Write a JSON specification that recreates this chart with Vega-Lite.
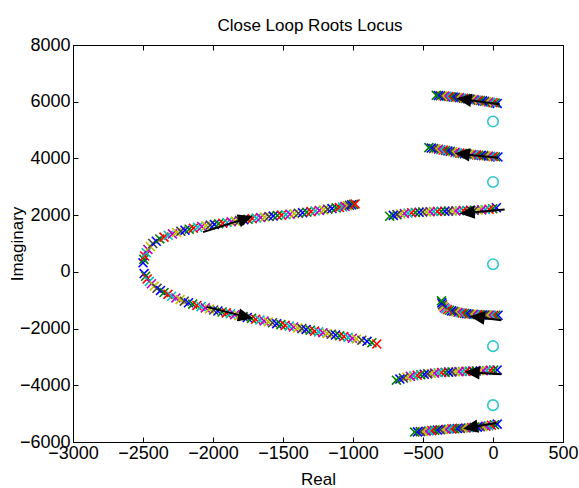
{
  "$schema": "https://vega.github.io/schema/vega-lite/v6.json",
  "width": 490,
  "height": 397,
  "autosize": {"type": "none"},
  "padding": {"left": 73, "top": 45, "right": 16, "bottom": 46},
  "background": "white",
  "title": {"text": "Close Loop Roots Locus", "font": "Liberation Sans", "fontSize": 17, "fontWeight": "normal", "color": "black", "offset": 1, "dx": -8},
  "config": {
    "view": {"stroke": "black", "strokeWidth": 1},
    "axis": {"domain": false, "grid": false, "tickColor": "black", "tickSize": -5, "tickWidth": 1, "format": "d",
      "labelFont": "Liberation Sans", "labelFontSize": 18, "labelColor": "black", "labelFlush": false, "labelOverlap": false,
      "titleFont": "Liberation Sans", "titleFontSize": 17, "titleFontWeight": "normal", "titleColor": "black"}
  },
  "datasets": {
    "roots": [
      {"b":1,"g":1,"re":-2500,"im":320},{"b":1,"g":2,"re":-2494,"im":440},{"b":1,"g":3,"re":-2488,"im":560},{"b":1,"g":4,"re":-2477,"im":675},{"b":1,"g":5,"re":-2465,"im":790},{"b":1,"g":6,"re":-2448,"im":895},{"b":1,"g":7,"re":-2430,"im":1000},{"b":1,"g":8,"re":-2405,"im":1080},{"b":1,"g":9,"re":-2380,"im":1160},{"b":1,"g":10,"re":-2350,"im":1225},{"b":1,"g":11,"re":-2320,"im":1290},{"b":1,"g":12,"re":-2290,"im":1340},{"b":1,"g":13,"re":-2260,"im":1390},{"b":1,"g":14,"re":-2230,"im":1430},{"b":1,"g":15,"re":-2200,"im":1470},{"b":1,"g":16,"re":-2170,"im":1505},{"b":1,"g":17,"re":-2140,"im":1540},{"b":1,"g":18,"re":-2110,"im":1570},{"b":1,"g":19,"re":-2080,"im":1600},{"b":1,"g":20,"re":-2050,"im":1625},{"b":1,"g":21,"re":-2020,"im":1650},{"b":1,"g":22,"re":-1990,"im":1672},{"b":1,"g":23,"re":-1960,"im":1695},{"b":1,"g":24,"re":-1930,"im":1717},{"b":1,"g":25,"re":-1900,"im":1740},{"b":1,"g":26,"re":-1870,"im":1765},{"b":1,"g":27,"re":-1840,"im":1790},{"b":1,"g":28,"re":-1810,"im":1812},{"b":1,"g":29,"re":-1780,"im":1835},{"b":1,"g":30,"re":-1750,"im":1855},{"b":1,"g":31,"re":-1720,"im":1875},{"b":1,"g":32,"re":-1690,"im":1895},{"b":1,"g":33,"re":-1660,"im":1915},{"b":1,"g":34,"re":-1630,"im":1932},{"b":1,"g":35,"re":-1600,"im":1950},{"b":1,"g":36,"re":-1570,"im":1967},{"b":1,"g":37,"re":-1540,"im":1985},{"b":1,"g":38,"re":-1510,"im":2000},{"b":1,"g":39,"re":-1480,"im":2015},{"b":1,"g":40,"re":-1450,"im":2032},{"b":1,"g":41,"re":-1420,"im":2050},{"b":1,"g":42,"re":-1390,"im":2067},{"b":1,"g":43,"re":-1360,"im":2085},{"b":1,"g":44,"re":-1330,"im":2105},{"b":1,"g":45,"re":-1300,"im":2125},{"b":1,"g":46,"re":-1270,"im":2145},{"b":1,"g":47,"re":-1240,"im":2165},{"b":1,"g":48,"re":-1210,"im":2187},{"b":1,"g":49,"re":-1180,"im":2210},{"b":1,"g":50,"re":-1150,"im":2232},{"b":1,"g":51,"re":-1120,"im":2255},{"b":1,"g":52,"re":-1097,"im":2272},{"b":1,"g":53,"re":-1075,"im":2290},{"b":1,"g":54,"re":-1057,"im":2310},{"b":1,"g":55,"re":-1040,"im":2330},{"b":1,"g":56,"re":-1025,"im":2347},{"b":1,"g":57,"re":-1010,"im":2365},{"b":1,"g":58,"re":-997,"im":2380},{"b":1,"g":59,"re":-985,"im":2395},
      {"b":2,"g":1,"re":-2492,"im":-60},{"b":2,"g":2,"re":-2481,"im":-155},{"b":2,"g":3,"re":-2470,"im":-250},{"b":2,"g":4,"re":-2455,"im":-335},{"b":2,"g":5,"re":-2440,"im":-420},{"b":2,"g":6,"re":-2420,"im":-500},{"b":2,"g":7,"re":-2400,"im":-580},{"b":2,"g":8,"re":-2375,"im":-655},{"b":2,"g":9,"re":-2350,"im":-730},{"b":2,"g":10,"re":-2322,"im":-795},{"b":2,"g":11,"re":-2295,"im":-860},{"b":2,"g":12,"re":-2265,"im":-920},{"b":2,"g":13,"re":-2235,"im":-980},{"b":2,"g":14,"re":-2205,"im":-1035},{"b":2,"g":15,"re":-2175,"im":-1090},{"b":2,"g":16,"re":-2145,"im":-1137},{"b":2,"g":17,"re":-2115,"im":-1185},{"b":2,"g":18,"re":-2085,"im":-1227},{"b":2,"g":19,"re":-2055,"im":-1270},{"b":2,"g":20,"re":-2025,"im":-1307},{"b":2,"g":21,"re":-1995,"im":-1345},{"b":2,"g":22,"re":-1965,"im":-1380},{"b":2,"g":23,"re":-1935,"im":-1415},{"b":2,"g":24,"re":-1905,"im":-1447},{"b":2,"g":25,"re":-1875,"im":-1480},{"b":2,"g":26,"re":-1845,"im":-1512},{"b":2,"g":27,"re":-1815,"im":-1545},{"b":2,"g":28,"re":-1785,"im":-1577},{"b":2,"g":29,"re":-1755,"im":-1610},{"b":2,"g":30,"re":-1725,"im":-1640},{"b":2,"g":31,"re":-1695,"im":-1670},{"b":2,"g":32,"re":-1665,"im":-1700},{"b":2,"g":33,"re":-1635,"im":-1730},{"b":2,"g":34,"re":-1605,"im":-1762},{"b":2,"g":35,"re":-1575,"im":-1795},{"b":2,"g":36,"re":-1545,"im":-1827},{"b":2,"g":37,"re":-1515,"im":-1860},{"b":2,"g":38,"re":-1485,"im":-1887},{"b":2,"g":39,"re":-1455,"im":-1915},{"b":2,"g":40,"re":-1425,"im":-1945},{"b":2,"g":41,"re":-1395,"im":-1975},{"b":2,"g":42,"re":-1365,"im":-2002},{"b":2,"g":43,"re":-1335,"im":-2030},{"b":2,"g":44,"re":-1305,"im":-2060},{"b":2,"g":45,"re":-1275,"im":-2090},{"b":2,"g":46,"re":-1245,"im":-2117},{"b":2,"g":47,"re":-1215,"im":-2145},{"b":2,"g":48,"re":-1185,"im":-2172},{"b":2,"g":49,"re":-1155,"im":-2200},{"b":2,"g":50,"re":-1125,"im":-2227},{"b":2,"g":51,"re":-1095,"im":-2255},{"b":2,"g":52,"re":-1065,"im":-2282},{"b":2,"g":53,"re":-1035,"im":-2310},{"b":2,"g":54,"re":-1005,"im":-2340},{"b":2,"g":55,"re":-975,"im":-2370},{"b":2,"g":56,"re":-937,"im":-2410},{"b":2,"g":57,"re":-900,"im":-2450},{"b":2,"g":58,"re":-865,"im":-2497},{"b":2,"g":59,"re":-830,"im":-2545},
      {"b":3,"g":1,"re":30,"im":5940},{"b":3,"g":2,"re":15,"im":5953},{"b":3,"g":3,"re":0,"im":5965},{"b":3,"g":4,"re":-15,"im":5978},{"b":3,"g":5,"re":-30,"im":5990},{"b":3,"g":6,"re":-45,"im":6003},{"b":3,"g":7,"re":-60,"im":6016},{"b":3,"g":8,"re":-75,"im":6029},{"b":3,"g":9,"re":-90,"im":6042},{"b":3,"g":10,"re":-105,"im":6053},{"b":3,"g":11,"re":-120,"im":6063},{"b":3,"g":12,"re":-135,"im":6073},{"b":3,"g":13,"re":-150,"im":6083},{"b":3,"g":14,"re":-165,"im":6093},{"b":3,"g":15,"re":-180,"im":6103},{"b":3,"g":16,"re":-195,"im":6113},{"b":3,"g":17,"re":-210,"im":6123},{"b":3,"g":18,"re":-225,"im":6133},{"b":3,"g":19,"re":-240,"im":6143},{"b":3,"g":20,"re":-255,"im":6152},{"b":3,"g":21,"re":-270,"im":6160},{"b":3,"g":22,"re":-285,"im":6168},{"b":3,"g":23,"re":-300,"im":6175},{"b":3,"g":24,"re":-315,"im":6182},{"b":3,"g":25,"re":-330,"im":6189},{"b":3,"g":26,"re":-345,"im":6196},{"b":3,"g":27,"re":-360,"im":6203},{"b":3,"g":28,"re":-375,"im":6210},{"b":3,"g":29,"re":-390,"im":6217},{"b":3,"g":30,"re":-405,"im":6225},
      {"b":4,"g":1,"re":35,"im":4050},{"b":4,"g":2,"re":18,"im":4058},{"b":4,"g":3,"re":1,"im":4066},{"b":4,"g":4,"re":-16,"im":4074},{"b":4,"g":5,"re":-33,"im":4082},{"b":4,"g":6,"re":-50,"im":4090},{"b":4,"g":7,"re":-67,"im":4098},{"b":4,"g":8,"re":-84,"im":4107},{"b":4,"g":9,"re":-101,"im":4115},{"b":4,"g":10,"re":-118,"im":4124},{"b":4,"g":11,"re":-135,"im":4132},{"b":4,"g":12,"re":-152,"im":4141},{"b":4,"g":13,"re":-169,"im":4151},{"b":4,"g":14,"re":-186,"im":4160},{"b":4,"g":15,"re":-203,"im":4170},{"b":4,"g":16,"re":-220,"im":4179},{"b":4,"g":17,"re":-237,"im":4188},{"b":4,"g":18,"re":-254,"im":4198},{"b":4,"g":19,"re":-271,"im":4218},{"b":4,"g":20,"re":-288,"im":4236},{"b":4,"g":21,"re":-305,"im":4250},{"b":4,"g":22,"re":-322,"im":4265},{"b":4,"g":23,"re":-339,"im":4280},{"b":4,"g":24,"re":-356,"im":4295},{"b":4,"g":25,"re":-373,"im":4310},{"b":4,"g":26,"re":-390,"im":4325},{"b":4,"g":27,"re":-407,"im":4340},{"b":4,"g":28,"re":-424,"im":4352},{"b":4,"g":29,"re":-441,"im":4366},{"b":4,"g":30,"re":-458,"im":4380},
      {"b":5,"g":1,"re":24,"im":2260},{"b":5,"g":2,"re":-2,"im":2228},{"b":5,"g":3,"re":-28,"im":2210},{"b":5,"g":4,"re":-55,"im":2197},{"b":5,"g":5,"re":-81,"im":2186},{"b":5,"g":6,"re":-107,"im":2178},{"b":5,"g":7,"re":-134,"im":2172},{"b":5,"g":8,"re":-160,"im":2167},{"b":5,"g":9,"re":-186,"im":2162},{"b":5,"g":10,"re":-212,"im":2158},{"b":5,"g":11,"re":-239,"im":2154},{"b":5,"g":12,"re":-265,"im":2150},{"b":5,"g":13,"re":-291,"im":2147},{"b":5,"g":14,"re":-318,"im":2143},{"b":5,"g":15,"re":-344,"im":2140},{"b":5,"g":16,"re":-370,"im":2136},{"b":5,"g":17,"re":-397,"im":2131},{"b":5,"g":18,"re":-423,"im":2127},{"b":5,"g":19,"re":-449,"im":2122},{"b":5,"g":20,"re":-475,"im":2116},{"b":5,"g":21,"re":-502,"im":2110},{"b":5,"g":22,"re":-528,"im":2102},{"b":5,"g":23,"re":-554,"im":2094},{"b":5,"g":24,"re":-581,"im":2085},{"b":5,"g":25,"re":-607,"im":2076},{"b":5,"g":26,"re":-633,"im":2060},{"b":5,"g":27,"re":-659,"im":2040},{"b":5,"g":28,"re":-686,"im":2018},{"b":5,"g":29,"re":-712,"im":1992},{"b":5,"g":30,"re":-738,"im":1960},
      {"b":6,"g":1,"re":36,"im":-1530},{"b":6,"g":2,"re":20,"im":-1530},{"b":6,"g":3,"re":4,"im":-1530},{"b":6,"g":4,"re":-12,"im":-1529},{"b":6,"g":5,"re":-28,"im":-1528},{"b":6,"g":6,"re":-44,"im":-1526},{"b":6,"g":7,"re":-60,"im":-1523},{"b":6,"g":8,"re":-76,"im":-1519},{"b":6,"g":9,"re":-92,"im":-1515},{"b":6,"g":10,"re":-108,"im":-1509},{"b":6,"g":11,"re":-124,"im":-1503},{"b":6,"g":12,"re":-140,"im":-1497},{"b":6,"g":13,"re":-156,"im":-1492},{"b":6,"g":14,"re":-172,"im":-1486},{"b":6,"g":15,"re":-188,"im":-1476},{"b":6,"g":16,"re":-204,"im":-1466},{"b":6,"g":17,"re":-220,"im":-1455},{"b":6,"g":18,"re":-235,"im":-1441},{"b":6,"g":19,"re":-250,"im":-1427},{"b":6,"g":20,"re":-265,"im":-1410},{"b":6,"g":21,"re":-280,"im":-1393},{"b":6,"g":22,"re":-295,"im":-1376},{"b":6,"g":23,"re":-310,"im":-1355},{"b":6,"g":24,"re":-325,"im":-1330},{"b":6,"g":25,"re":-338,"im":-1300},{"b":6,"g":26,"re":-348,"im":-1265},{"b":6,"g":27,"re":-356,"im":-1215},{"b":6,"g":28,"re":-361,"im":-1160},{"b":6,"g":29,"re":-365,"im":-1095},{"b":6,"g":30,"re":-368,"im":-1020},
      {"b":7,"g":1,"re":30,"im":-3460},{"b":7,"g":2,"re":5,"im":-3466},{"b":7,"g":3,"re":-20,"im":-3472},{"b":7,"g":4,"re":-45,"im":-3479},{"b":7,"g":5,"re":-69,"im":-3484},{"b":7,"g":6,"re":-94,"im":-3489},{"b":7,"g":7,"re":-119,"im":-3494},{"b":7,"g":8,"re":-144,"im":-3499},{"b":7,"g":9,"re":-169,"im":-3504},{"b":7,"g":10,"re":-193,"im":-3509},{"b":7,"g":11,"re":-218,"im":-3514},{"b":7,"g":12,"re":-243,"im":-3519},{"b":7,"g":13,"re":-268,"im":-3524},{"b":7,"g":14,"re":-293,"im":-3530},{"b":7,"g":15,"re":-317,"im":-3537},{"b":7,"g":16,"re":-342,"im":-3543},{"b":7,"g":17,"re":-367,"im":-3550},{"b":7,"g":18,"re":-392,"im":-3560},{"b":7,"g":19,"re":-417,"im":-3571},{"b":7,"g":20,"re":-441,"im":-3585},{"b":7,"g":21,"re":-466,"im":-3598},{"b":7,"g":22,"re":-491,"im":-3613},{"b":7,"g":23,"re":-516,"im":-3629},{"b":7,"g":24,"re":-541,"im":-3646},{"b":7,"g":25,"re":-566,"im":-3665},{"b":7,"g":26,"re":-590,"im":-3686},{"b":7,"g":27,"re":-615,"im":-3715},{"b":7,"g":28,"re":-640,"im":-3745},{"b":7,"g":29,"re":-665,"im":-3780},{"b":7,"g":30,"re":-690,"im":-3820},
      {"b":8,"g":1,"re":30,"im":-5370},{"b":8,"g":2,"re":10,"im":-5390},{"b":8,"g":3,"re":-11,"im":-5410},{"b":8,"g":4,"re":-31,"im":-5426},{"b":8,"g":5,"re":-51,"im":-5441},{"b":8,"g":6,"re":-72,"im":-5455},{"b":8,"g":7,"re":-92,"im":-5465},{"b":8,"g":8,"re":-112,"im":-5475},{"b":8,"g":9,"re":-133,"im":-5483},{"b":8,"g":10,"re":-153,"im":-5491},{"b":8,"g":11,"re":-173,"im":-5499},{"b":8,"g":12,"re":-194,"im":-5507},{"b":8,"g":13,"re":-214,"im":-5514},{"b":8,"g":14,"re":-234,"im":-5520},{"b":8,"g":15,"re":-255,"im":-5526},{"b":8,"g":16,"re":-275,"im":-5532},{"b":8,"g":17,"re":-295,"im":-5538},{"b":8,"g":18,"re":-316,"im":-5545},{"b":8,"g":19,"re":-336,"im":-5553},{"b":8,"g":20,"re":-356,"im":-5561},{"b":8,"g":21,"re":-377,"im":-5570},{"b":8,"g":22,"re":-397,"im":-5579},{"b":8,"g":23,"re":-417,"im":-5588},{"b":8,"g":24,"re":-438,"im":-5598},{"b":8,"g":25,"re":-458,"im":-5609},{"b":8,"g":26,"re":-478,"im":-5619},{"b":8,"g":27,"re":-499,"im":-5627},{"b":8,"g":28,"re":-519,"im":-5635},{"b":8,"g":29,"re":-539,"im":-5643},{"b":8,"g":30,"re":-560,"im":-5650}
    ],
    "zeros": [
      {"re":0,"im":5300},{"re":0,"im":3170},{"re":0,"im":270},{"re":0,"im":-2620},{"re":0,"im":-4700}
    ],
    "shafts": [
      {"re":-2071,"im":1401,"re2":-1771,"im2":1874},
      {"re":-2047,"im":-1235,"re2":-1772,"im2":-1574},
      {"re":48,"im":5910,"re2":-202,"im2":6082},
      {"re":36,"im":4025,"re2":-214,"im2":4151},
      {"re":83,"im":2203,"re2":-179,"im2":2086},
      {"re":60,"im":-1705,"re2":-107,"im2":-1599},
      {"re":60,"im":-3611,"re2":-143,"im2":-3547},
      {"re":24,"im":-5330,"re2":-156,"im2":-5478}
    ],
    "heads": [
      {"re":-1771,"im":1874,"ang":72},
      {"re":-1772,"im":-1574,"ang":104},
      {"re":-202,"im":6082,"ang":278},
      {"re":-214,"im":4151,"ang":276},
      {"re":-179,"im":2086,"ang":265},
      {"re":-107,"im":-1599,"ang":277},
      {"re":-143,"im":-3547,"ang":274},
      {"re":-156,"im":-5478,"ang":260}
    ]
  },
  "resolve": {"axis": {"x": "independent", "y": "independent"}},
  "layer": [
    {
      "data": {"name": "roots"},
      "mark": {"type": "point", "shape": "M-1,-1L1,1M1,-1L-1,1", "filled": false, "size": 80, "strokeWidth": 1.6, "opacity": 1},
      "encoding": {
        "x": {"field": "re", "type": "quantitative", "scale": {"domain": [-3000, 500], "nice": false, "zero": false},
          "axis": {"title": "Real", "values": [-3000, -2500, -2000, -1500, -1000, -500, 0, 500], "labelPadding": 7, "titleY": 29}},
        "y": {"field": "im", "type": "quantitative", "scale": {"domain": [-6000, 8000], "nice": false, "zero": false},
          "axis": {"title": "Imaginary", "values": [-6000, -4000, -2000, 0, 2000, 4000, 6000, 8000], "labelPadding": 8, "titleX": -47}},
        "color": {"field": "g", "type": "nominal", "legend": null,
          "scale": {"range": ["#0000FF", "#008000", "#FF0000", "#00BFBF", "#BF00BF", "#BFBF00", "#404040"]}}
      }
    },
    {
      "data": {"name": "zeros"},
      "mark": {"type": "point", "shape": "circle", "filled": false, "size": 110, "strokeWidth": 1.6, "color": "#30C8CC", "opacity": 1},
      "encoding": {
        "x": {"field": "re", "type": "quantitative",
          "axis": {"orient": "top", "labels": false, "title": null, "values": [-3000, -2500, -2000, -1500, -1000, -500, 0, 500]}},
        "y": {"field": "im", "type": "quantitative",
          "axis": {"orient": "right", "labels": false, "title": null, "values": [-6000, -4000, -2000, 0, 2000, 4000, 6000, 8000]}}
      }
    },
    {
      "data": {"name": "shafts"},
      "mark": {"type": "rule", "color": "black", "strokeWidth": 2},
      "encoding": {
        "x": {"field": "re", "type": "quantitative", "axis": null},
        "y": {"field": "im", "type": "quantitative", "axis": null},
        "x2": {"field": "re2"},
        "y2": {"field": "im2"}
      }
    },
    {
      "data": {"name": "heads"},
      "mark": {"type": "point", "shape": "M0,-1L0.8,0.8L-0.8,0.8Z", "filled": true, "size": 280, "color": "black", "opacity": 1, "strokeWidth": 0},
      "encoding": {
        "x": {"field": "re", "type": "quantitative", "axis": null},
        "y": {"field": "im", "type": "quantitative", "axis": null},
        "angle": {"field": "ang", "type": "quantitative", "scale": null}
      }
    }
  ]
}
